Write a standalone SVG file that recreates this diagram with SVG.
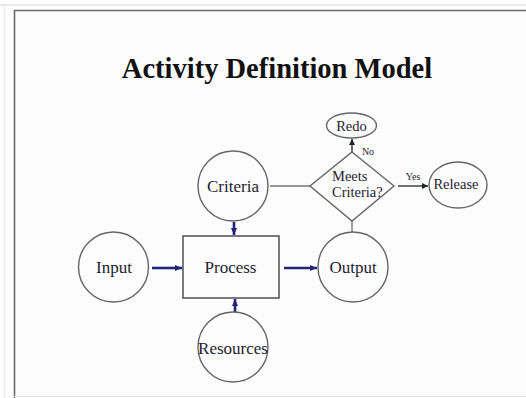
<svg xmlns="http://www.w3.org/2000/svg" width="526" height="398" viewBox="0 0 526 398">
<style>
.node{fill:none;stroke:#666;stroke-width:1.4}
.t{font-family:"Liberation Serif","Times New Roman",serif;fill:#1e1e30;text-anchor:middle}
.big{font-size:17px}
.mid{font-size:14.5px}
.sm{font-size:10px}
.nav{stroke:#23237a;stroke-width:2.6;fill:none}
.gl{stroke:#777;stroke-width:1.4;fill:none}
.bl{stroke:#222;stroke-width:1.3;fill:none}
</style>
<defs>
<marker id="ah" markerUnits="userSpaceOnUse" markerWidth="8" markerHeight="7" refX="7" refY="3.5" orient="auto">
<path d="M0,0.5 L7,3.5 L0,6.5 z" fill="#23237a"/>
</marker>
<marker id="bh" markerUnits="userSpaceOnUse" markerWidth="7" markerHeight="6" refX="6" refY="3" orient="auto">
<path d="M0,0 L6,3 L0,6 z" fill="#222"/>
</marker>
</defs>
<rect x="0" y="0" width="526" height="398" fill="#ffffff"/>
<rect x="14" y="10" width="520" height="386" fill="#fcfcfc"/>
<line x1="0" y1="5" x2="526" y2="5" stroke="#e4e4e4" stroke-width="1.5"/>
<line x1="4.5" y1="5" x2="4.5" y2="398" stroke="#eaeaea" stroke-width="1.5"/>
<line x1="14" y1="10.5" x2="526" y2="10.5" stroke="#6a6a6a" stroke-width="1.6"/>
<line x1="14.5" y1="10" x2="14.5" y2="398" stroke="#6a6a6a" stroke-width="1.6"/>
<line x1="14" y1="396.5" x2="526" y2="396.5" stroke="#e6e6e6" stroke-width="1"/>
<text x="277" y="78" class="t" style="font-size:28.5px;font-weight:bold;fill:#111">Activity Definition Model</text>

<g id="connectors">
<line x1="270" y1="186" x2="310" y2="186" class="gl"/>
<line x1="352" y1="221" x2="352" y2="232" class="gl"/>
<line x1="352" y1="152" x2="352" y2="139" class="bl" marker-end="url(#bh)"/>
<line x1="398" y1="186" x2="428" y2="186" class="bl" marker-end="url(#bh)"/>
<line x1="234" y1="222" x2="234" y2="235" class="nav" marker-end="url(#ah)"/>
<line x1="235" y1="312" x2="235" y2="299" class="nav" marker-end="url(#ah)"/>
<line x1="152" y1="268" x2="182" y2="268" class="nav" marker-end="url(#ah)"/>
<line x1="284" y1="268" x2="317" y2="268" class="nav" marker-end="url(#ah)"/>
<text x="368" y="155" class="t sm">No</text>
<text x="413" y="180" class="t sm">Yes</text>
</g>

<g id="redo">
<ellipse cx="351.5" cy="125.5" rx="25" ry="12.5" class="node"/>
<text x="351.5" y="131" class="t mid">Redo</text>
</g>
<g id="decision">
<polygon points="352,152 394,186 352,221 310,186" class="node"/>
<text x="332" y="180.5" class="t mid" style="text-anchor:start">Meets</text>
<text x="332" y="197" class="t mid" style="text-anchor:start">Criteria?</text>
</g>
<g id="release">
<ellipse cx="458" cy="185" rx="29" ry="23" class="node"/>
<text x="456" y="189" class="t mid">Release</text>
</g>
<g id="criteria">
<circle cx="233" cy="186" r="35" class="node"/>
<text x="233" y="192" class="t big">Criteria</text>
</g>
<g id="input">
<circle cx="113.5" cy="267" r="35" class="node"/>
<text x="114" y="273" class="t big">Input</text>
</g>
<g id="process">
<rect x="183" y="236" width="96" height="62" class="node" style="stroke:#444"/>
<text x="230.5" y="273" class="t big">Process</text>
</g>
<g id="output">
<circle cx="353" cy="267" r="35" class="node"/>
<text x="353" y="273" class="t big">Output</text>
</g>
<g id="resources">
<circle cx="233" cy="347" r="35" class="node"/>
<text x="233" y="354" class="t big">Resources</text>
</g>
</svg>
